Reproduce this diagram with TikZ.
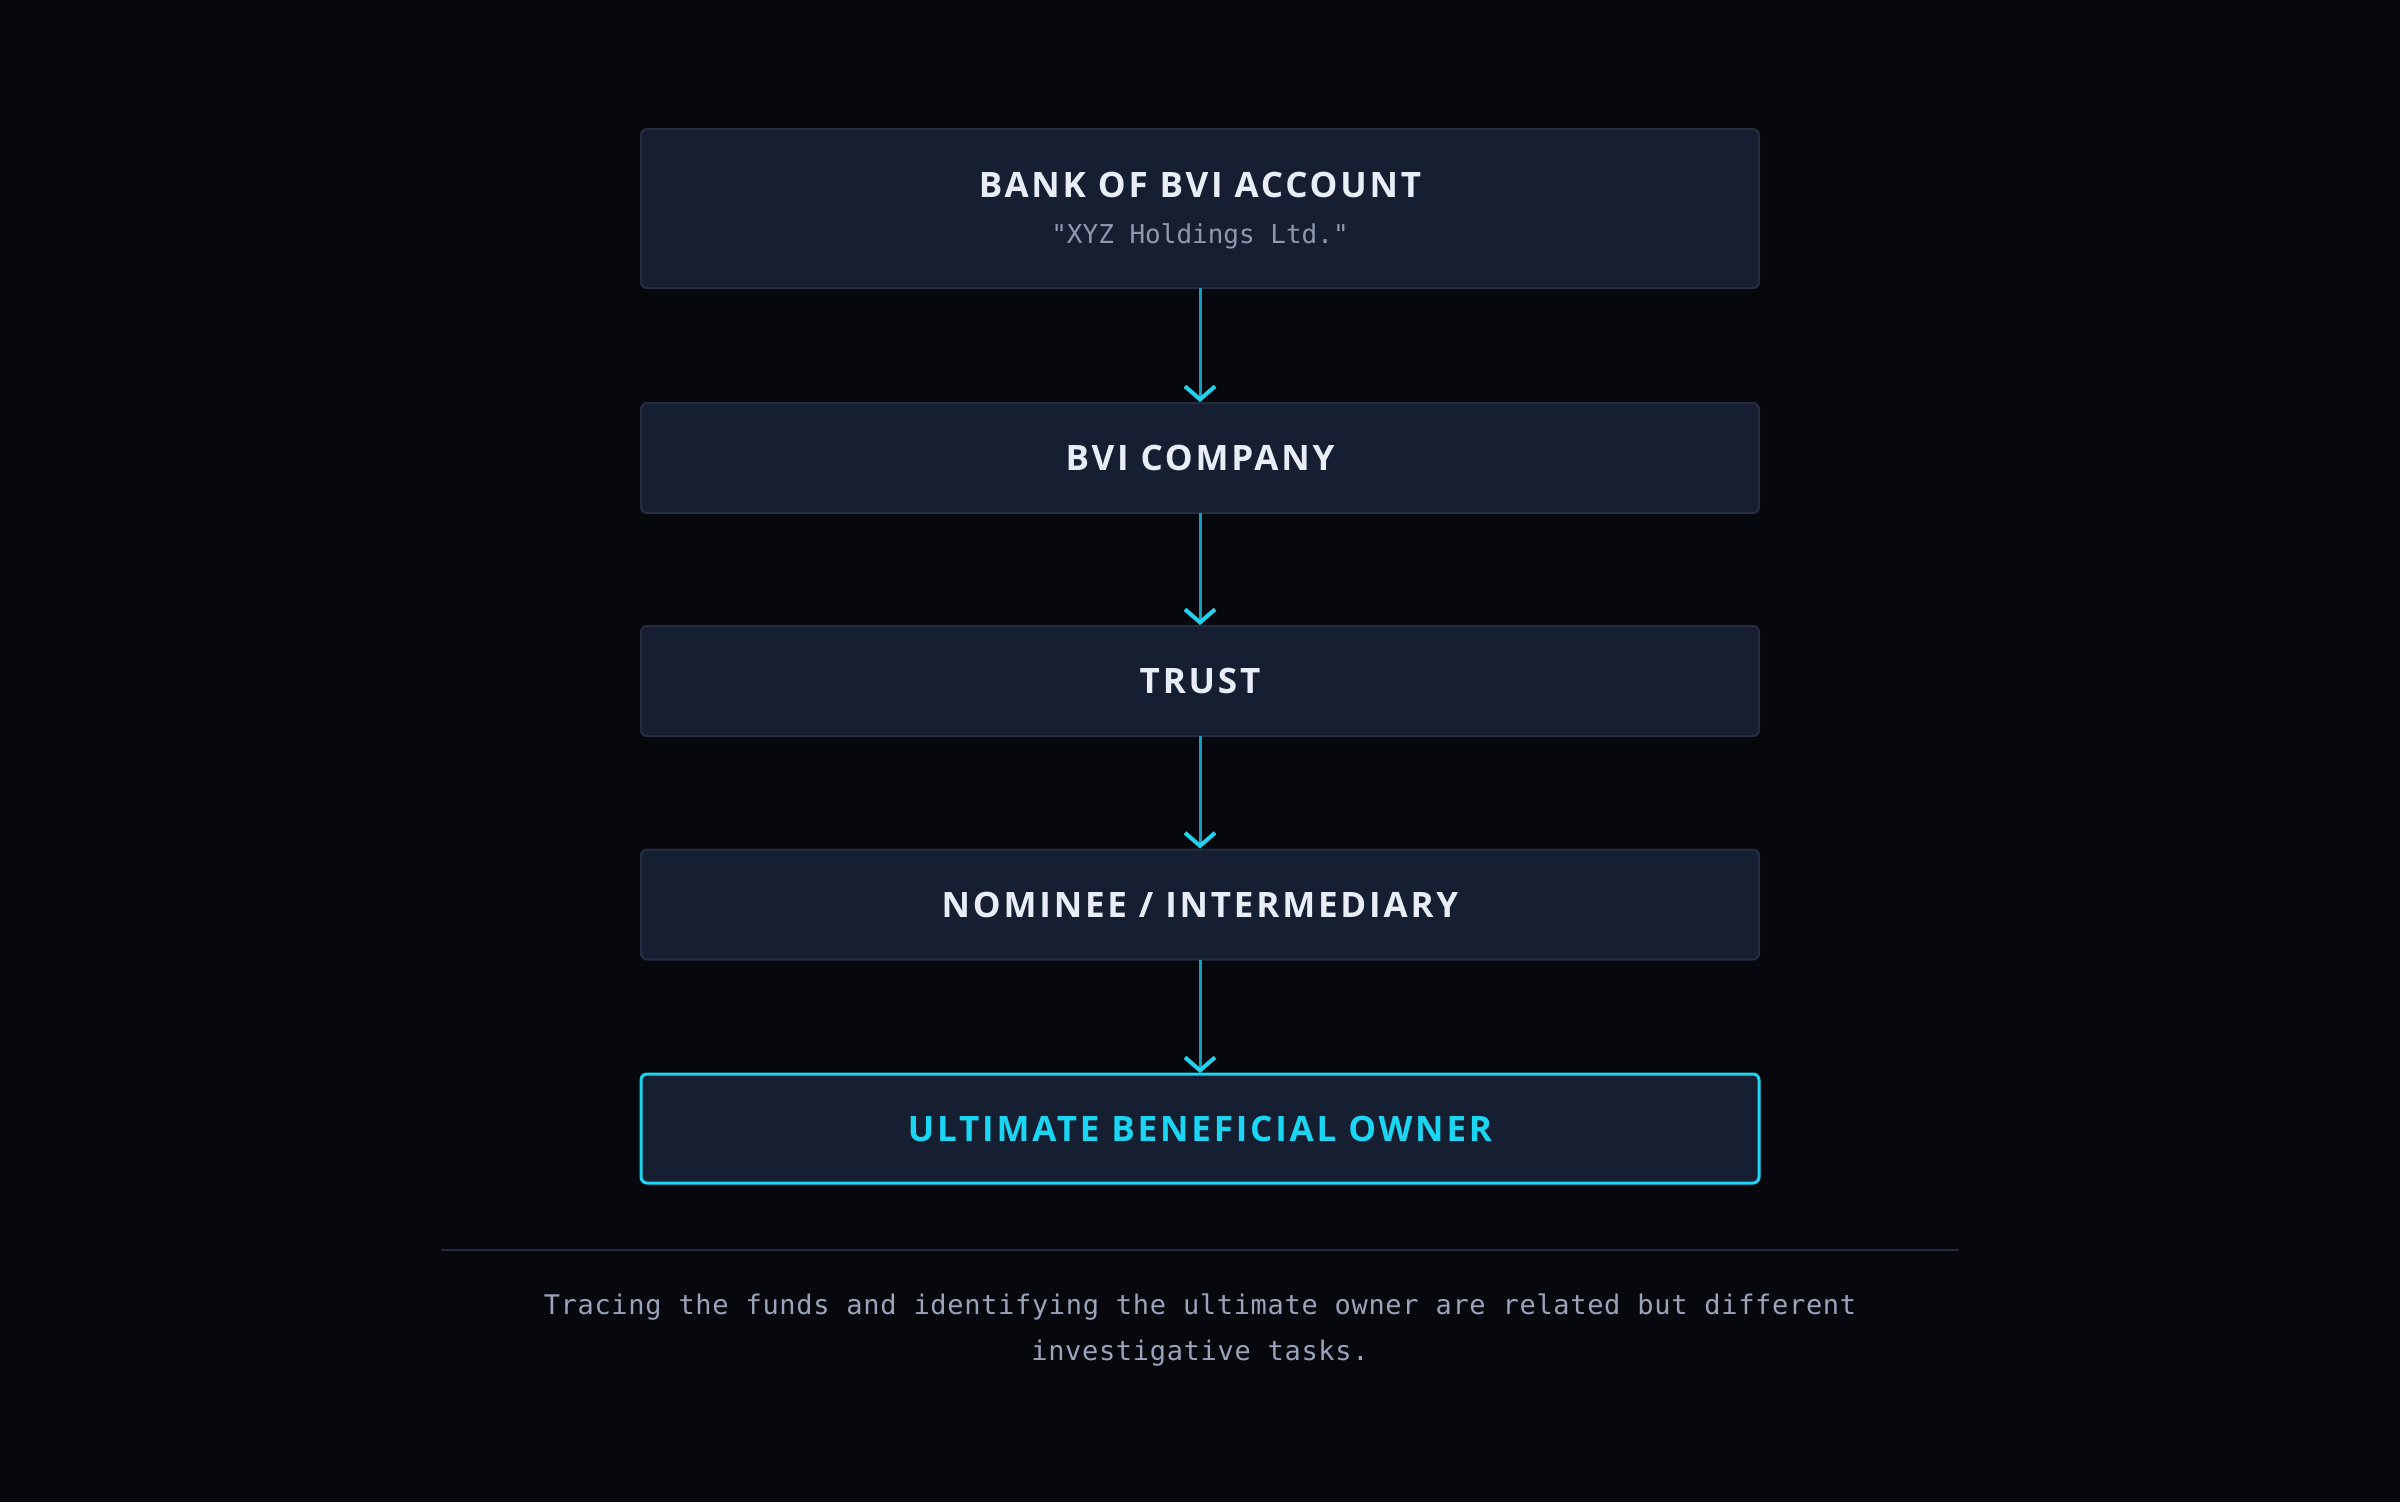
\documentclass[tikz,border=0pt]{standalone}
\usepackage{fontspec}
\usetikzlibrary{arrows.meta}
\newfontfamily\titlefont[LetterSpace=8]{Open Sans}
\newfontfamily\monofont{DejaVu Sans Mono}
\newfontfamily\capfont[LetterSpace=2.5]{DejaVu Sans Mono}
\definecolor{bg}{HTML}{06080D}
\definecolor{boxfill}{HTML}{161E31}
\definecolor{boxline}{HTML}{252D42}
\definecolor{titletext}{HTML}{E8EDF7}
\definecolor{subtext}{HTML}{8E99B0}
\definecolor{captext}{HTML}{9AA3B8}
\definecolor{linecol}{HTML}{0E9FBF}
\definecolor{headcol}{HTML}{22D3EE}
\definecolor{ubo}{HTML}{1AD6F2}
\definecolor{sepcol}{HTML}{232A3D}
\tikzset{
  box/.style={draw=boxline, line width=2pt, fill=boxfill, rounded corners=6pt,
    minimum width=1118pt, inner sep=0pt, outer sep=0pt},
  ubobox/.style={box, draw=ubo, line width=3pt},
  titlelbl/.style={font=\titlefont\bfseries\fontsize{35}{40}\selectfont, text=titletext, inner sep=0pt},
  ubolbl/.style={titlelbl, text=ubo},
  sublbl/.style={font=\monofont\fontsize{26}{30}\selectfont, text=subtext, inner sep=0pt},
  caplbl/.style={font=\capfont\fontsize{27}{46}\selectfont, text=captext, inner sep=0pt, align=center},
  flow/.style={draw=linecol, line width=3pt,
    -{Straight Barb[length=13pt, width=30pt, line width=4pt, color=headcol]}, shorten >=1pt},
}
\begin{document}
\begin{tikzpicture}[x=1pt,y=-1pt]
\fill[bg] (0,0) rectangle (2400,1502);
\useasboundingbox (0,0) rectangle (2400,1502);
\node[box, minimum height=159pt] (b1) at (1200,208.5) {};
\node[box, minimum height=110pt] (b2) at (1200,458) {};
\node[box, minimum height=110pt] (b3) at (1200,681) {};
\node[box, minimum height=110pt] (b4) at (1200,904.5) {};
\node[ubobox, minimum height=109pt] (b5) at (1200,1128.5) {};
\node[titlelbl] (t1) at (1200,184.5) {BANK OF BVI ACCOUNT};
\node[sublbl] (s1) at (1200,236.5) {"XYZ Holdings Ltd."};
\node[titlelbl] (t2) at (b2.center) {BVI COMPANY};
\node[titlelbl] (t3) at (b3.center) {TRUST};
\node[titlelbl] (t4) at (b4.center) {NOMINEE / INTERMEDIARY};
\node[ubolbl] (t5) at (b5.center) {ULTIMATE BENEFICIAL OWNER};
\draw[flow] (b1.south) -- (b2.north);
\draw[flow] (b2.south) -- (b3.north);
\draw[flow] (b3.south) -- (b4.north);
\draw[flow] (b4.south) -- (b5.north);
\coordinate (sepL) at (441,1250);
\coordinate (sepR) at (1959,1250);
\draw[sepcol, line width=2pt] (sepL) -- (sepR);
\node[caplbl] (cap) at (1200,1330) {Tracing the funds and identifying the ultimate owner are related but different\\investigative tasks.};
\end{tikzpicture}
\end{document}
